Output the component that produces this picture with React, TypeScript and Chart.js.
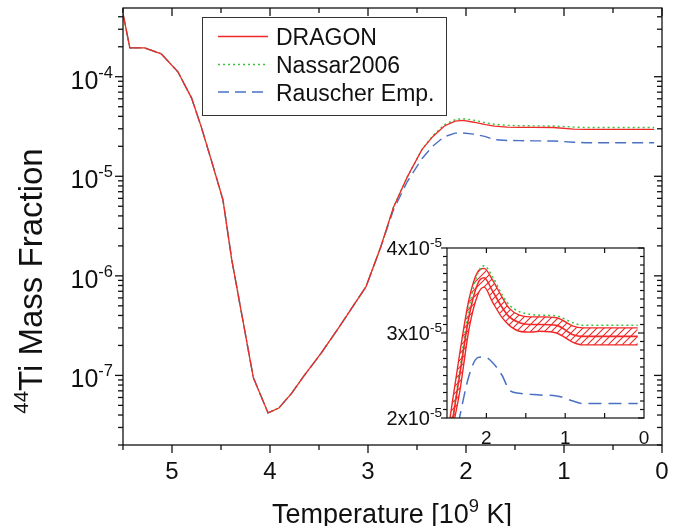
import React, { useEffect, useRef } from 'react';
import { Chart, registerables } from 'chart.js';

Chart.register(...registerables);

// ---------- data ----------
const TEMPERATURE = [5.5, 5.43, 5.28, 5.11, 4.94, 4.8, 4.7, 4.6, 4.48, 4.39, 4.17, 4.02, 3.91, 3.78, 3.65, 3.48, 3.3, 3.02, 2.87, 2.74, 2.6, 2.45, 2.34, 2.22, 2.11, 2.03, 1.92, 1.8, 1.71, 1.58, 1.45, 1.32, 1.11, 0.9, 0.78, 0.5, 0.08];
const DRAGON = [4.3e-4, 1.95e-4, 1.95e-4, 1.7e-4, 1.12e-4, 6.1e-5, 3.1e-5, 1.46e-5, 5.8e-6, 1.45e-6, 9.5e-8, 4.2e-8, 4.7e-8, 6.6e-8, 1.0e-7, 1.66e-7, 3.0e-7, 7.8e-7, 1.95e-6, 4.9e-6, 9.8e-6, 1.85e-5, 2.5e-5, 3.2e-5, 3.58e-5, 3.65e-5, 3.49e-5, 3.3e-5, 3.19e-5, 3.12e-5, 3.1e-5, 3.1e-5, 3.09e-5, 2.98e-5, 2.96e-5, 2.96e-5, 2.96e-5];
const NASSAR = [4.3e-4, 1.95e-4, 1.95e-4, 1.7e-4, 1.12e-4, 6.1e-5, 3.1e-5, 1.46e-5, 5.8e-6, 1.45e-6, 9.5e-8, 4.2e-8, 4.7e-8, 6.6e-8, 1.0e-7, 1.66e-7, 3.0e-7, 7.8e-7, 1.95e-6, 4.9e-6, 9.8e-6, 1.85e-5, 2.55e-5, 3.3e-5, 3.7e-5, 3.79e-5, 3.66e-5, 3.45e-5, 3.33e-5, 3.25e-5, 3.22e-5, 3.21e-5, 3.2e-5, 3.12e-5, 3.09e-5, 3.09e-5, 3.09e-5];
const RAUSCHER = [4.3e-4, 1.95e-4, 1.95e-4, 1.7e-4, 1.12e-4, 6.1e-5, 3.1e-5, 1.46e-5, 5.8e-6, 1.45e-6, 9.5e-8, 4.2e-8, 4.7e-8, 6.6e-8, 1.0e-7, 1.66e-7, 3.0e-7, 7.8e-7, 1.95e-6, 4.6e-6, 8.8e-6, 1.5e-5, 2.01e-5, 2.5e-5, 2.71e-5, 2.72e-5, 2.65e-5, 2.5e-5, 2.33e-5, 2.29e-5, 2.28e-5, 2.27e-5, 2.26e-5, 2.2e-5, 2.17e-5, 2.17e-5, 2.17e-5];

const BAND_T = [2.47, 2.34, 2.22, 2.11, 2.03, 1.92, 1.8, 1.71, 1.58, 1.45, 1.32, 1.11, 0.9, 0.78, 0.5, 0.08];
const BAND_UPPER = [1.95e-5, 2.75e-5, 3.4e-5, 3.72e-5, 3.76e-5, 3.62e-5, 3.42e-5, 3.29e-5, 3.21e-5, 3.19e-5, 3.19e-5, 3.18e-5, 3.08e-5, 3.06e-5, 3.06e-5, 3.06e-5];
const BAND_LOWER = [1.7e-5, 2.3e-5, 3.05e-5, 3.45e-5, 3.54e-5, 3.36e-5, 3.18e-5, 3.09e-5, 3.02e-5, 3.01e-5, 3.02e-5, 3.0e-5, 2.89e-5, 2.86e-5, 2.86e-5, 2.86e-5];

const LEGEND_LABELS = ['DRAGON', 'Nassar2006', 'Rauscher Emp.'];
const MAIN_X_TICKS = [5, 4, 3, 2, 1, 0];
const MAIN_X_MINOR = [5.5, 4.5, 3.5, 2.5, 1.5, 0.5];
const MAIN_Y_EXPONENTS = [-4, -5, -6, -7];
const INSET_X_TICKS = [2, 1, 0];
const INSET_X_MINOR = [2, 1.5, 1, 0.5];
const INSET_Y_MANTISSAS = [2, 3, 4];
const X_TITLE = ['Temperature [10', '9', ' K]'];
const Y_TITLE = ['44', 'Ti Mass Fraction'];

const RED = '#f02828';
const GREEN = '#3cc43c';
const BLUE = '#4a70c4';
const FONT = '"Liberation Sans", Arial, Helvetica, sans-serif';

type Part = { t: string; sup?: boolean };

function drawRich(ctx: CanvasRenderingContext2D, parts: Part[], x: number, y: number, size: number, align: 'left' | 'center' | 'right', supScale = 0.68, raise = 0.42) {
  const widths = parts.map((p) => {
    ctx.font = `${p.sup ? size * supScale : size}px ${FONT}`;
    return ctx.measureText(p.t).width;
  });
  const total = widths.reduce((a, b) => a + b, 0);
  let cx = align === 'left' ? x : align === 'center' ? x - total / 2 : x - total;
  ctx.textAlign = 'left';
  ctx.textBaseline = 'alphabetic';
  parts.forEach((p, i) => {
    ctx.font = `${p.sup ? size * supScale : size}px ${FONT}`;
    ctx.fillText(p.t, cx, p.sup ? y - size * raise : y);
    cx += widths[i];
  });
}

const pts = (xs: number[], ys: number[]) => xs.map((x, i) => ({ x, y: ys[i] }));

function line(ctx: CanvasRenderingContext2D, x1: number, y1: number, x2: number, y2: number) {
  ctx.beginPath();
  ctx.moveTo(x1, y1);
  ctx.lineTo(x2, y2);
  ctx.stroke();
}

const mainDecor = {
  id: 'mainDecor',
  afterDraw(chart: any) {
    const { ctx, chartArea: a, scales } = chart;
    const xs = scales.x;
    const ys = scales.y;
    ctx.save();
    ctx.strokeStyle = '#111';
    ctx.fillStyle = '#111';
    ctx.lineWidth = 1.3;
    ctx.strokeRect(a.left, a.top, a.right - a.left, a.bottom - a.top);
    // x ticks
    MAIN_X_TICKS.forEach((v) => {
      const px = xs.getPixelForValue(v);
      line(ctx, px, a.bottom, px, a.bottom + 8);
      line(ctx, px, a.top, px, a.top + 8);
      drawRich(ctx, [{ t: String(v) }], px, a.bottom + 34, 24, 'center');
    });
    MAIN_X_MINOR.forEach((v) => {
      const px = xs.getPixelForValue(v);
      line(ctx, px, a.bottom, px, a.bottom + 5);
      line(ctx, px, a.top, px, a.top + 5);
    });
    // y ticks
    for (let n = -8; n <= -3; n++) {
      for (let k = 1; k <= 9; k++) {
        const v = k * Math.pow(10, n);
        if (v < ys.min * 0.999 || v > ys.max * 1.001) continue;
        const py = ys.getPixelForValue(v);
        const len = k === 1 ? 8 : 5;
        line(ctx, a.left - len, py, a.left, py);
        line(ctx, a.right - len, py, a.right, py);
      }
    }
    MAIN_Y_EXPONENTS.forEach((e) => {
      const py = ys.getPixelForValue(Math.pow(10, e));
      drawRich(ctx, [{ t: '10' }, { t: String(e), sup: true }], a.left - 10, py + 12, 25, 'right', 0.66, 0.44);
    });
    // axis titles
    drawRich(ctx, [{ t: X_TITLE[0] }, { t: X_TITLE[1], sup: true }, { t: X_TITLE[2] }], 392, 523, 27, 'center');
    ctx.save();
    ctx.translate(42, 281);
    ctx.rotate(-Math.PI / 2);
    drawRich(ctx, [{ t: Y_TITLE[0], sup: true }, { t: Y_TITLE[1] }], 0, 0, 33, 'center', 0.62, 0.42);
    ctx.restore();
    // legend
    ctx.lineWidth = 1;
    ctx.strokeStyle = '#333';
    ctx.strokeRect(202.5, 17.5, 244, 98);
    const rows = [36.5, 64.5, 92];
    chart.data.datasets.forEach((ds: any, i: number) => {
      ctx.save();
      ctx.strokeStyle = ds.borderColor;
      ctx.lineWidth = ds.borderWidth;
      ctx.setLineDash(ds.borderDash || []);
      line(ctx, 218, rows[i], 268, rows[i]);
      ctx.restore();
      ctx.fillStyle = '#111';
      drawRich(ctx, [{ t: ds.label }], 276, rows[i] + 8.5, 23, 'left');
    });
    ctx.restore();
  },
};

const insetDecor = {
  id: 'insetDecor',
  afterDraw(chart: any) {
    const { ctx, chartArea: a, scales } = chart;
    const xs = scales.x;
    const ys = scales.y;
    ctx.save();
    ctx.strokeStyle = '#111';
    ctx.fillStyle = '#111';
    ctx.lineWidth = 1.2;
    ctx.strokeRect(a.left, a.top, a.right - a.left, a.bottom - a.top);
    INSET_X_MINOR.forEach((v) => {
      const px = xs.getPixelForValue(v);
      line(ctx, px, a.top, px, a.top + 5);
      line(ctx, px, a.bottom - 5, px, a.bottom);
    });
    INSET_X_TICKS.forEach((v) => {
      const px = xs.getPixelForValue(v);
      drawRich(ctx, [{ t: String(v) }], px, a.bottom + 26, 19, 'center');
    });
    for (let m = 20; m <= 40; m++) {
      const py = ys.getPixelForValue(m * 1e-6);
      const len = m % 10 === 0 ? 6 : 4;
      line(ctx, a.left - len, py, a.left, py);
      line(ctx, a.right - len, py, a.right, py);
    }
    INSET_Y_MANTISSAS.forEach((m) => {
      const py = ys.getPixelForValue(m * 1e-5);
      drawRich(ctx, [{ t: `${m}x10` }, { t: '-5', sup: true }], a.left - 5, py + 7, 20, 'right');
    });
    ctx.restore();
  },
};

function makeHatch(): CanvasPattern | string {
  const c = document.createElement('canvas');
  c.width = 7;
  c.height = 7;
  const g = c.getContext('2d');
  if (!g) return 'rgba(240,40,40,0.3)';
  g.strokeStyle = RED;
  g.lineWidth = 1.1;
  g.beginPath();
  g.moveTo(-1, 8);
  g.lineTo(8, -1);
  g.moveTo(-1, 1);
  g.lineTo(1, -1);
  g.moveTo(6, 8);
  g.lineTo(8, 6);
  g.stroke();
  const p = g.createPattern(c, 'repeat');
  return p || 'rgba(240,40,40,0.3)';
}

export default function App() {
  const mainRef = useRef<HTMLCanvasElement>(null);
  const insetRef = useRef<HTMLCanvasElement>(null);

  useEffect(() => {
    if (!mainRef.current || !insetRef.current) return;
    const main = new Chart(mainRef.current, {
      type: 'line',
      data: {
        datasets: [
          { label: LEGEND_LABELS[0], data: pts(TEMPERATURE, DRAGON), borderColor: RED, borderWidth: 1.3, order: 0 },
          { label: LEGEND_LABELS[1], data: pts(TEMPERATURE, NASSAR), borderColor: GREEN, borderWidth: 1.4, borderDash: [2, 3], order: 1 },
          { label: LEGEND_LABELS[2], data: pts(TEMPERATURE, RAUSCHER), borderColor: BLUE, borderWidth: 1.4, borderDash: [11, 6], order: 2 },
        ] as any,
      },
      options: {
        responsive: false,
        animation: false,
        layout: { padding: { left: 123, right: 20, top: 8, bottom: 81 } },
        scales: {
          x: { type: 'linear', display: false, reverse: true, min: 0, max: 5.5 },
          y: { type: 'logarithmic', display: false, min: 2e-8, max: 4.9e-4 },
        },
        plugins: { legend: { display: false }, tooltip: { enabled: false } },
        elements: { point: { radius: 0 }, line: { tension: 0, fill: false } },
      } as any,
      plugins: [mainDecor],
    });

    const hatch = makeHatch();
    const inset = new Chart(insetRef.current, {
      type: 'line',
      data: {
        datasets: [
          { label: 'lower', data: pts(BAND_T, BAND_LOWER), borderColor: RED, borderWidth: 1.4, fill: false, order: 3 },
          { label: 'upper', data: pts(BAND_T, BAND_UPPER), borderColor: RED, borderWidth: 1.4, fill: '-1', backgroundColor: hatch, order: 3 },
          { label: LEGEND_LABELS[0], data: pts(TEMPERATURE, DRAGON), borderColor: RED, borderWidth: 1.6, order: 0 },
          { label: LEGEND_LABELS[1], data: pts(TEMPERATURE, NASSAR), borderColor: GREEN, borderWidth: 1.5, borderDash: [2, 3], order: 1 },
          { label: LEGEND_LABELS[2], data: pts(TEMPERATURE, RAUSCHER), borderColor: BLUE, borderWidth: 1.5, borderDash: [13, 7], order: 2 },
        ] as any,
      },
      options: {
        responsive: false,
        animation: false,
        layout: { padding: { left: 67, right: 26, top: 18, bottom: 42 } },
        scales: {
          x: { type: 'linear', display: false, reverse: true, min: 0, max: 2.5 },
          y: { type: 'linear', display: false, min: 2e-5, max: 4e-5 },
        },
        plugins: { legend: { display: false }, tooltip: { enabled: false } },
        elements: { point: { radius: 0 }, line: { tension: 0.3, cubicInterpolationMode: 'monotone' } },
      } as any,
      plugins: [insetDecor],
    });

    return () => {
      main.destroy();
      inset.destroy();
    };
  }, []);

  return (
    <div style={{ position: 'absolute', left: 0, top: 0, width: 682, height: 526, background: '#fff' }}>
      <canvas ref={mainRef} width={682} height={526} style={{ position: 'absolute', left: 0, top: 0, width: 682, height: 526 }} />
      <canvas ref={insetRef} width={290} height={230} style={{ position: 'absolute', left: 380, top: 230, width: 290, height: 230 }} />
    </div>
  );
}
